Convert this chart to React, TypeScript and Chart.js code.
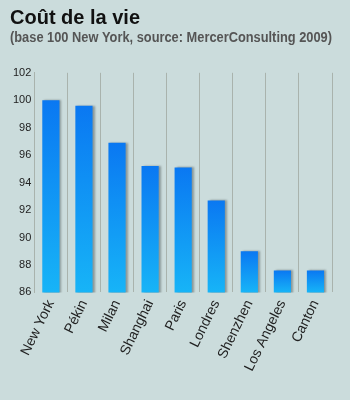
import React, { useEffect, useRef } from "react";
import { Chart, registerables } from "chart.js";
Chart.register(...registerables);

const categories = ["New York", "Pékin", "Milan", "Shanghai", "Paris", "Londres", "Shenzhen", "Los Angeles", "Canton"];
const values = [100, 99.6, 96.9, 95.2, 95.1, 92.7, 89.0, 87.6, 87.6];
const yMin = 86;
const yMax = 102;
const yStep = 2;
const titleText = "Coût de la vie";
const subtitleText = "(base 100 New York, source: MercerConsulting 2009)";

const bgPlugin = {
  id: "bg",
  beforeDraw(chart: any) {
    const { ctx, width, height } = chart;
    ctx.save();
    ctx.fillStyle = "#cbdcdc";
    ctx.fillRect(0, 0, width, height);
    ctx.restore();
  },
};

const shadowPlugin = {
  id: "barShadow",
  beforeDatasetDraw(chart: any) {
    const ctx = chart.ctx;
    ctx.save();
    ctx.shadowColor = "rgba(60,70,70,0.45)";
    ctx.shadowOffsetX = 2;
    ctx.shadowOffsetY = 0;
    ctx.shadowBlur = 2;
  },
  afterDatasetDraw(chart: any) {
    chart.ctx.restore();
  },
};

export default function App() {
  const ref = useRef<HTMLCanvasElement>(null);
  useEffect(() => {
    document.body.style.margin = "0";
    const canvas = ref.current!;
    const chart = new Chart(canvas, {
      type: "bar",
      data: {
        labels: categories,
        datasets: [
          {
            data: values,
            backgroundColor: (c: any) => {
              const ch = c.chart;
              const area = ch.chartArea;
              if (!area || c.dataIndex === undefined) return "#0e8ef5";
              const v = values[c.dataIndex];
              const top = ch.scales.y.getPixelForValue(v);
              const g = ch.ctx.createLinearGradient(0, top, 0, area.bottom);
              g.addColorStop(0, "#0a78f2");
              g.addColorStop(1, "#17b4f7");
              return g;
            },
            borderWidth: 0,
            barPercentage: 0.52,
            categoryPercentage: 1,
          },
        ],
      },
      options: {
        animation: false,
        responsive: false,
        devicePixelRatio: 1,
        layout: { padding: { left: 10, right: 18, top: 6, bottom: 21 } },
        plugins: {
          legend: { display: false },
          tooltip: { enabled: false },
          title: {
            display: true,
            text: titleText,
            align: "start",
            color: "#111",
            font: { family: "Liberation Sans, Arial, sans-serif", size: 20, weight: "bold" },
            padding: { top: 0, bottom: 0 },
          },
          subtitle: {
            display: true,
            text: subtitleText,
            align: "start",
            color: "#555",
            font: { family: "Liberation Sans, Arial, sans-serif", size: 14, weight: "bold" },
            padding: { top: 0, bottom: 26 },
          },
        },
        scales: {
          x: {
            offset: true,
            grid: { display: true, offset: true, color: "#a9b3ad", drawTicks: false, lineWidth: 1 },
            border: { display: false },
            afterFit: (s: any) => {
              s.paddingLeft = 0;
              s.paddingRight = 0;
            },
            ticks: {
              color: "#222",
              font: { family: "Liberation Sans, Arial, sans-serif", size: 14 },
              minRotation: 64,
              maxRotation: 64,
              autoSkip: false,
              padding: 5,
            },
          },
          y: {
            min: yMin,
            max: yMax,
            grid: { display: false, drawTicks: false },
            border: { display: true, color: "#a9b3ad" },
            ticks: {
              stepSize: yStep,
              color: "#222",
              font: { family: "Liberation Sans, Arial, sans-serif", size: 11 },
              padding: 3,
            },
          },
        },
      },
      plugins: [bgPlugin, shadowPlugin],
    } as any);
    return () => chart.destroy();
  }, []);
  return <canvas ref={ref} width={350} height={400} style={{ display: "block" }} />;
}
